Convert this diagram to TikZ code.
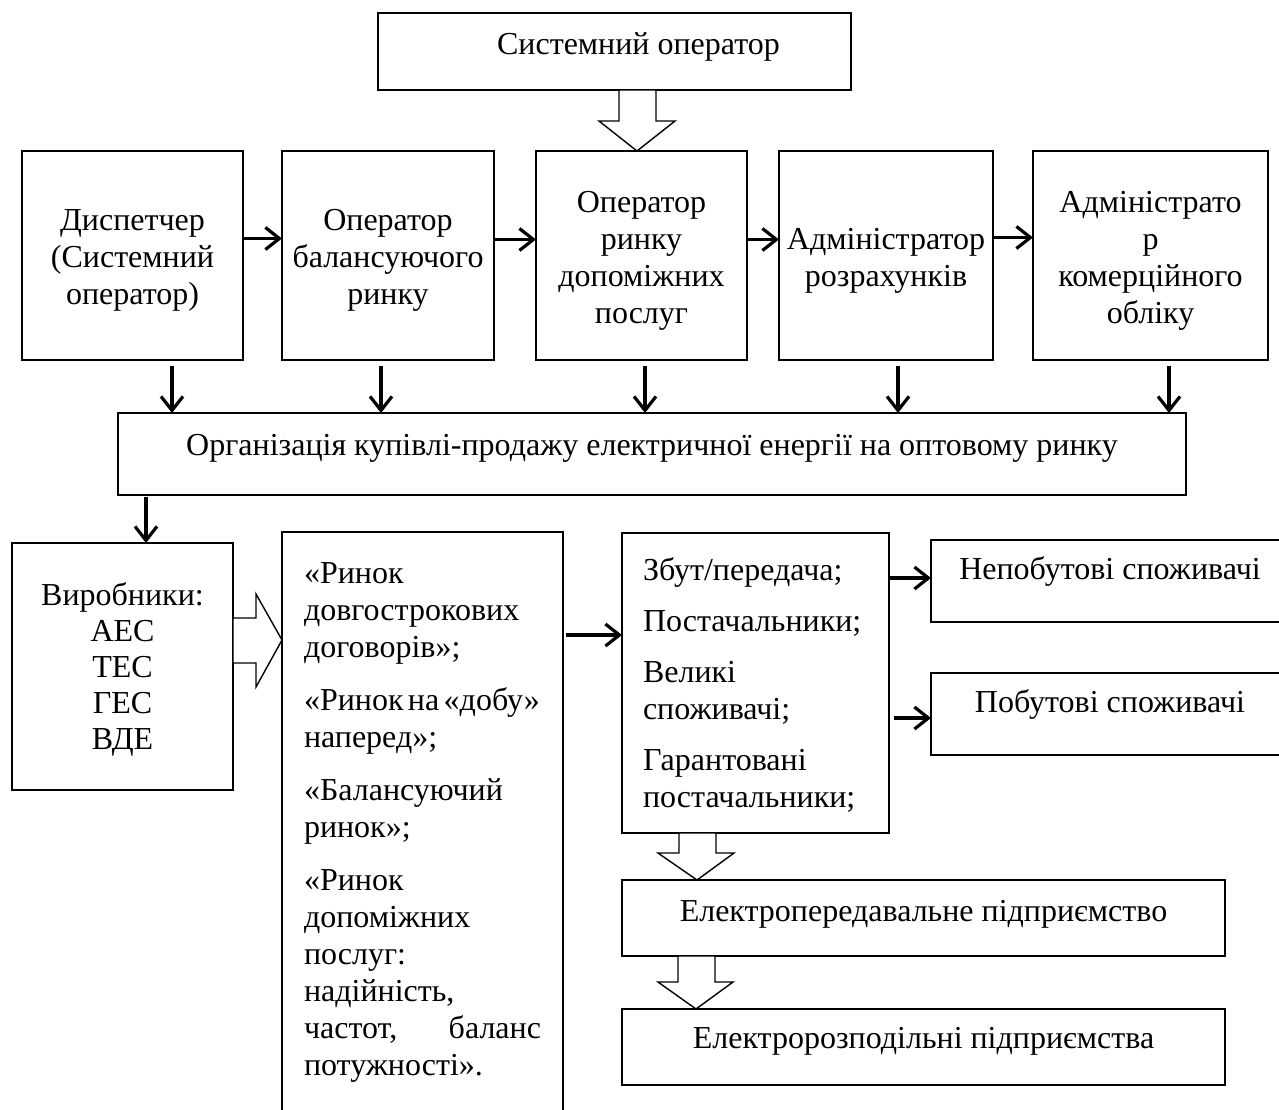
\documentclass[tikz,border=0pt]{standalone}
\usepackage{fontspec}
\setmainfont{Liberation Serif}
\usetikzlibrary{arrows.meta,calc}

\begin{document}
\begin{tikzpicture}[x=0.5pt,y=-0.5pt,inner sep=0pt,outer sep=0pt,
font=\fontsize{16}{18.5}\selectfont,
blok/.style={draw,rectangle,line width=0.7pt},
cblok/.style={draw,rectangle,line width=0.7pt,anchor=north west,align=center},
lblok/.style={draw,rectangle,line width=0.7pt,anchor=north west,align=left,inner xsep=10.5pt,inner ysep=0pt},
arr/.style={-{Straight Barb[length=7pt,width=11pt]},line width=1.6pt},
hollow/.style={draw,fill=white,line width=0.7pt,line join=miter}]

\useasboundingbox (0,0) rectangle (1279,1109);

\node[blok,minimum width=236.5pt,minimum height=38.5pt,text depth=7.5pt] (sysop) at (614.5,51.5) {\hspace*{24pt}Системний оператор};

\node[cblok,text width=110.5pt,text height=39.75pt,text depth=64.75pt] (disp) at (22,151) {Диспетчер\\(Системний\\оператор)};
\node[cblok,text width=106pt,text height=39.75pt,text depth=64.75pt] (balop) at (282,151) {Оператор\\балансуючого\\ринку};
\node[cblok,text width=105.5pt,text height=30.5pt,text depth=74pt] (dopop) at (536,151) {Оператор\\ринку\\допоміжних\\послуг};
\node[cblok,text width=107pt,text height=49.25pt,text depth=55.25pt] (admroz) at (779,151) {Адміністратор\\розрахунків};
\node[cblok,text width=117.5pt,text height=30.5pt,text depth=74pt] (admkom) at (1033,151) {Адміністрато\\р\\комерційного\\обліку};

\node[blok,minimum width=534pt,minimum height=41pt,text depth=9.5pt] (orgkp) at (652,454) {Організація купівлі-продажу електричної енергії на оптовому ринку};

\node[cblok,text width=110.5pt,text height=31pt,text depth=92.5pt,font=\fontsize{16}{18}\selectfont] (vyrob) at (12,543) {Виробники:\\АЕС\\ТЕС\\ГЕС\\ВДЕ};

\node[lblok,text width=118.5pt,minimum width=140.5pt,text height=25.5pt,text depth=294.5pt] (rynky) at (282,532) {«Ринок\\довгострокових\\договорів»;\\[8pt]
\mbox{«Ринок\hspace{2.2pt}на\hspace{2.2pt}«добу»}\\наперед»;\\[8pt]
«Балансуючий\\ринок»;\\[8pt]
«Ринок\\допоміжних\\послуг:\\надійність,\\частот,\hfill баланс\\потужності».};

\node[lblok,text width=112.5pt,minimum width=133.5pt,text height=23.5pt,text depth=126.5pt] (zbut) at (622,533) {Збут/передача;\\[7pt]
Постачальники;\\[7pt]
Великі\\споживачі;\\[7pt]
Гарантовані\\постачальники;};

\node[blok,minimum width=179pt,minimum height=41pt,text depth=12.5pt] (nepob) at (1110,581) {Непобутові споживачі};
\node[blok,minimum width=179pt,minimum height=41pt,text depth=12.5pt] (pobut) at (1110,714) {Побутові споживачі};
\node[blok,minimum width=301.5pt,minimum height=38pt,text depth=7.5pt] (elpered) at (923.5,918) {Електропередавальне підприємство};
\node[blok,minimum width=301.5pt,minimum height=38pt,text depth=9pt] (elrozp) at (923.5,1047) {Електророзподільні підприємства};

% upper row
\draw[arr] ([yshift=8.5pt]disp.east) -- ([yshift=8.5pt]balop.west);
\draw[arr] ([yshift=8pt]balop.east) -- ([yshift=8pt]dopop.west);
\draw[arr] ([yshift=8pt]dopop.east) -- ([yshift=8pt]admroz.west);
\draw[arr] ([yshift=9pt]admroz.east) -- ([yshift=9pt]admkom.west);
\foreach \b/\dx in {disp/19.75pt,balop/-3.5pt,dopop/1.75pt,admroz/6pt,admkom/9.25pt}
  \draw[arr] ($(\b.south)+(\dx,-3pt)$) -- ($(\b.south |- orgkp.north)+(\dx,0)$);

% lower part
\draw[arr] ($(vyrob.north |- orgkp.south)+(11.75pt,-1pt)$) -- ($(vyrob.north)+(11.75pt,0)$);
\draw[arr] ($(rynky.east |- zbut.west)+(1.5pt,24pt)$) -- ($(zbut.west)+(0,24pt)$);
\draw[arr] ($(zbut.east |- nepob.west)+(0.5pt,1.5pt)$) -- ($(nepob.west)+(0,1.5pt)$);
\draw[arr] ($(zbut.east |- pobut.west)+(2.5pt,-2pt)$) -- ($(pobut.west)+(0,-2pt)$);

% hollow arrows
\draw[hollow] ($(sysop.south)+(4.5,0)$) -- ++(0,31) -- ++(-20,0) -- ++(38,30) -- ++(38,-30) -- ++(-19,0) -- ++(0,-31) -- cycle;
\draw[hollow] ($(vyrob.east)+(0,-48.5)$) -- ++(23,0) -- ++(0,-24) -- ++(26,46) -- ++(-26,47) -- ++(0,-24) -- ++(-23,0) -- cycle;
\draw[hollow] ($(zbut.south)+(-76.5,0)$) -- ++(0,20) -- ++(-21,0) -- ++(39,27) -- ++(37,-27) -- ++(-18,0) -- ++(0,-20) -- cycle;
\draw[hollow] ($(elpered.south)+(-245.5,0)$) -- ++(0,26) -- ++(-20,0) -- ++(38,27) -- ++(37,-27) -- ++(-18,0) -- ++(0,-26) -- cycle;
\end{tikzpicture}
\end{document}
